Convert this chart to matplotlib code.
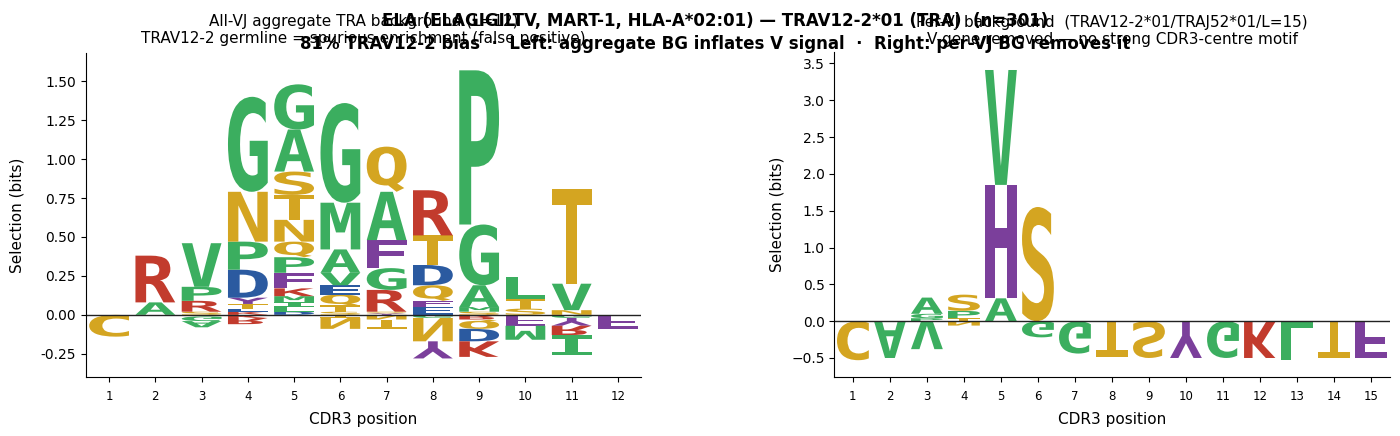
import numpy as np
import matplotlib
matplotlib.use('Agg')
import matplotlib.pyplot as plt
from matplotlib.textpath import TextPath
from matplotlib.patches import PathPatch
from matplotlib.font_manager import FontProperties
from matplotlib.transforms import Affine2D

# letter colours (chemistry-like scheme)
colors = {}
for aa in 'GAVLIPMW':
    colors[aa] = '#3bae5f'
for aa in 'STCNQ':
    colors[aa] = '#d4a521'
for aa in 'RK':
    colors[aa] = '#c23b2d'
for aa in 'DE':
    colors[aa] = '#2b5aa0'
for aa in 'FYH':
    colors[aa] = '#7b3f9b'

# per position: letters stacked from zero outwards, (letter, height in bits)
left_pos = [
    [],
    [('A', 0.08), ('R', 0.30)],
    [('S', 0.02), ('R', 0.07), ('P', 0.09), ('V', 0.28)],
    [('K', 0.02), ('E', 0.02), ('T', 0.03), ('Y', 0.04), ('D', 0.18), ('P', 0.18), ('N', 0.32), ('G', 0.61)],
    [('D', 0.02), ('L', 0.03), ('I', 0.03), ('M', 0.04), ('K', 0.05), ('F', 0.10), ('P', 0.10),
     ('Q', 0.10), ('N', 0.14), ('T', 0.16), ('S', 0.15), ('A', 0.27), ('G', 0.29)],
    [('S', 0.02), ('T', 0.04), ('Q', 0.07), ('E', 0.06), ('V', 0.08), ('A', 0.15), ('M', 0.30), ('G', 0.64)],
    [('Y', 0.01), ('S', 0.01), ('R', 0.14), ('G', 0.14), ('F', 0.18), ('A', 0.31), ('Q', 0.29)],
    [('E', 0.05), ('F', 0.04), ('Q', 0.10), ('D', 0.13), ('T', 0.19), ('R', 0.29)],
    [('S', 0.02), ('M', 0.03), ('A', 0.14), ('G', 0.39), ('P', 0.99)],
    [('S', 0.04), ('T', 0.06), ('L', 0.14)],
    [('N', 0.03), ('V', 0.17), ('T', 0.61)],
    [],
]
left_neg = [
    [('C', 0.14)],
    [],
    [('T', 0.01), ('G', 0.03), ('A', 0.04)],
    [('K', 0.02), ('R', 0.04)],
    [],
    [('T', 0.02), ('N', 0.07)],
    [('N', 0.03), ('T', 0.06)],
    [('G', 0.02), ('N', 0.15), ('Y', 0.11)],
    [('R', 0.03), ('Q', 0.06), ('D', 0.08), ('K', 0.10)],
    [('F', 0.07), ('M', 0.09)],
    [('G', 0.02), ('Y', 0.05), ('R', 0.06), ('I', 0.13)],
    [('F', 0.09)],
]

right_pos = [
    [], [],
    [('P', 0.04), ('G', 0.06), ('A', 0.22)],
    [('T', 0.04), ('P', 0.10), ('S', 0.22)],
    [('A', 0.31), ('H', 1.54), ('V', 1.56)],
    [('S', 1.55)],
    [], [], [], [], [], [], [], [], [],
]
right_neg = [
    [('C', 0.53)], [('A', 0.50)], [('V', 0.38)], [('N', 0.06)], [],
    [('G', 0.22)], [('G', 0.44)], [('T', 0.48)], [('S', 0.50)], [('Y', 0.50)],
    [('G', 0.50)], [('K', 0.50)], [('L', 0.53)], [('T', 0.50)], [('F', 0.50)],
]

fp = FontProperties(family='DejaVu Sans Mono', weight='bold')
glyphs = {}


def draw_letter(ax, c, x, y0, h, width=0.86, flip=False):
    if c not in glyphs:
        glyphs[c] = TextPath((0, 0), c, size=1, prop=fp)
    path = glyphs[c]
    ext = path.get_extents()
    sx = width / ext.width
    sy = h / ext.height
    if flip:
        tr = Affine2D().translate(-ext.x0, -ext.y0).scale(sx, -sy).translate(x - width / 2, y0 + h)
    else:
        tr = Affine2D().translate(-ext.x0, -ext.y0).scale(sx, sy).translate(x - width / 2, y0)
    ax.add_patch(PathPatch(tr.transform_path(path), fc=colors[c], lw=0))


def logo(ax, pos, neg, ylabelpad):
    for i in range(len(pos)):
        x = i + 1
        y = 0.0
        for c, h in pos[i]:
            draw_letter(ax, c, x, y, h)
            y += h
        y = 0.0
        for c, h in neg[i]:
            y -= h
            draw_letter(ax, c, x, y, h, flip=True)
    n = len(pos)
    ax.axhline(0, color='#222222', lw=1)
    ax.set_xlim(0.5, n + 0.5)
    ax.set_xticks(range(1, n + 1))
    ax.tick_params(axis='x', labelsize=8.5, pad=6)
    ax.tick_params(axis='y', labelsize=10)
    ax.spines['top'].set_visible(False)
    ax.spines['right'].set_visible(False)
    ax.set_xlabel('CDR3 position', fontsize=11, labelpad=6)
    ax.set_ylabel('Selection (bits)', fontsize=11, labelpad=ylabelpad)


fig = plt.figure(figsize=(14, 4.36), dpi=100)
ax1 = fig.add_axes([0.0614, 0.135, 0.3965, 0.743])
ax2 = fig.add_axes([0.596, 0.135, 0.3965, 0.745])

logo(ax1, left_pos, left_neg, 12)
ax1.set_ylim(-0.40, 1.68)
ax1.set_yticks(np.arange(-0.25, 1.51, 0.25))
ax1.yaxis.set_major_formatter(matplotlib.ticker.FormatStrFormatter('%.2f'))
ax1.set_title('All-VJ aggregate TRA background (L=12)\n'
              'TRAV12-2 germline = spurious enrichment (false positive)', fontsize=11, pad=7)

logo(ax2, right_pos, right_neg, 5)
ax2.set_ylim(-0.76, 3.65)
ax2.set_yticks(np.arange(-0.5, 3.51, 0.5))
ax2.set_title('Per-VJ background  (TRAV12-2*01/TRAJ52*01/L=15)\n'
              'V-gene removed \u2014 no strong CDR3-centre motif', fontsize=11, pad=6)

fig.suptitle('ELA (ELAGIGILTV, MART-1, HLA-A*02:01) \u2014 TRAV12-2*01 (TRA)  (n=301)\n'
             '81% TRAV12-2 bias  \u00b7  Left: aggregate BG inflates V signal  \u00b7  Right: per-VJ BG removes it',
             fontsize=12, fontweight='bold', x=0.511, y=0.972, va='top', linespacing=1.35)

fig.savefig('out.png', dpi=100)
